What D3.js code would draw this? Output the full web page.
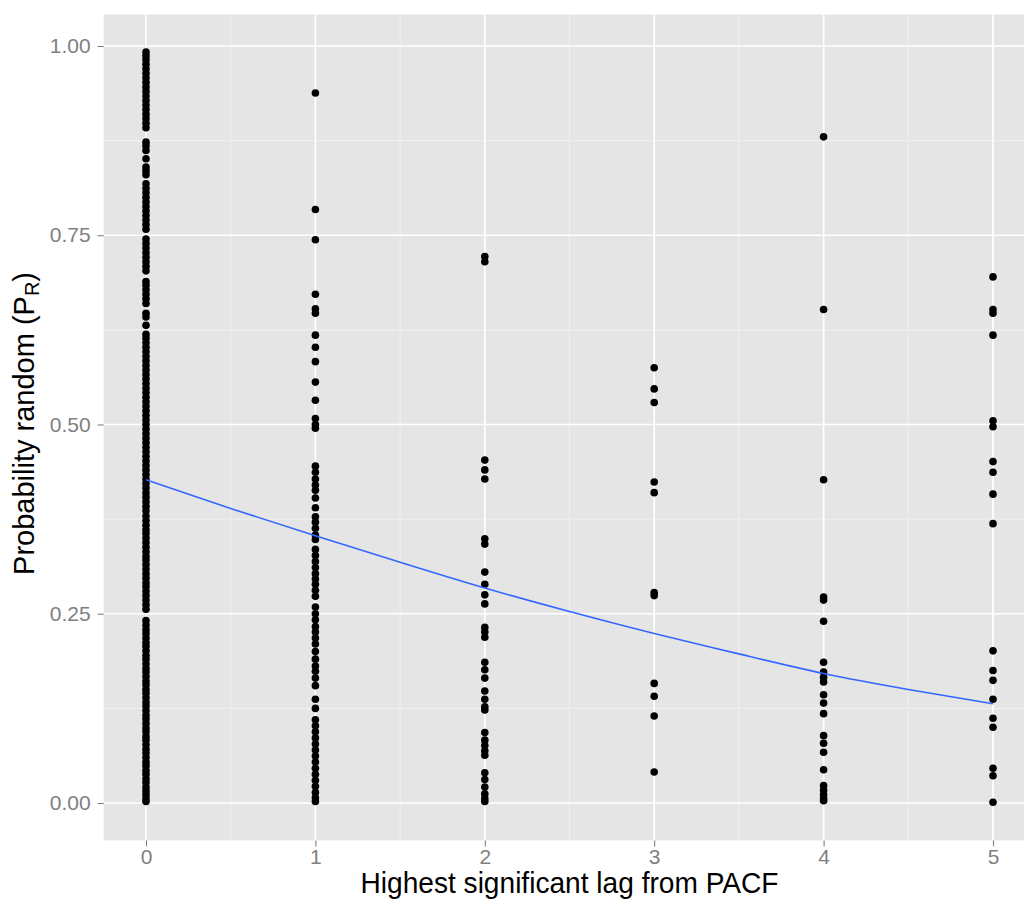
<!DOCTYPE html>
<html><head><meta charset="utf-8">
<script src="https://cdn.jsdelivr.net/npm/d3@7"></script>
<style>body{margin:0;background:#fff}svg{display:block}</style>
</head><body>
<svg id="chart" width="1024" height="906"></svg>
<script>
const xTicks = [0,1,2,3,4,5];
const yTicks = [0,0.25,0.5,0.75,1];
const yTickLabels = ["0.00","0.25","0.50","0.75","1.00"];
const xMinor = [0.5,1.5,2.5,3.5,4.5];
const yMinor = [0.125,0.375,0.625,0.875];

const lag0 = [0.002,0.006,0.011,0.016,0.021,0.027,0.032,0.038,0.043,0.049,0.054,0.060,0.066,0.071,0.077,0.083,0.088,0.094,0.099,0.105,0.111,0.116,0.122,0.128,0.133,0.139,0.145,0.150,0.156,0.161,0.167,0.173,0.178,0.184,0.190,0.195,0.201,0.207,0.212,0.218,0.224,0.229,0.235,0.241,
0.256,0.262,0.268,0.274,0.280,0.286,0.291,0.297,0.303,0.309,0.315,0.321,0.326,0.332,0.338,0.344,0.350,0.356,0.361,0.367,0.373,0.379,
0.386,0.392,0.398,0.404,0.410,0.416,0.422,0.428,0.434,0.440,0.446,0.452,0.458,0.464,0.470,0.476,0.482,0.488,0.494,0.500,0.506,0.512,0.518,0.524,0.530,0.536,0.542,0.548,0.554,0.560,0.566,0.572,0.578,0.584,0.590,0.596,0.602,0.608,0.614,0.619,
0.631,0.642,0.647,0.660,0.666,0.672,0.678,0.684,0.689,
0.703,0.709,0.715,0.721,0.727,0.733,0.739,0.745,
0.758,0.764,0.770,0.776,0.782,0.788,0.794,0.800,0.806,0.812,0.818,
0.830,0.835,0.840,0.851,0.862,0.868,0.873,
0.892,0.898,0.904,0.910,0.916,0.922,0.928,0.934,0.940,0.946,0.952,0.958,0.964,0.970,0.976,0.982,0.987,0.992];
const lag1 = [0.938,0.784,0.744,0.672,0.653,0.647,0.618,0.602,0.583,0.556,0.532,0.508,0.500,0.495,
0.445,0.437,0.428,0.420,0.413,0.403,0.390,0.378,0.371,0.363,0.354,0.348,
0.335,0.327,0.319,0.311,0.303,0.296,0.289,0.281,0.273,
0.259,0.250,0.242,0.233,0.226,0.218,0.210,0.200,0.190,0.181,0.174,0.165,0.155,0.137,0.125,
0.110,0.102,0.094,0.086,0.078,0.070,0.062,0.054,0.046,0.038,0.030,0.022,0.014,0.007,0.002];
const lag2 = [0.722,0.715,0.453,0.440,0.428,0.349,0.342,0.305,0.289,0.275,0.263,0.232,0.226,0.219,0.186,0.176,0.165,0.148,0.137,0.127,0.123,0.093,0.083,0.076,0.069,0.063,0.040,0.031,0.021,0.012,0.006,0.002];
const lag3 = [0.575,0.547,0.529,0.424,0.410,0.278,0.274,0.158,0.141,0.115,0.041];
const lag4 = [0.880,0.652,0.427,0.272,0.268,0.240,0.186,0.173,0.166,0.160,0.143,0.132,0.118,0.089,0.079,0.067,0.044,0.023,0.017,0.011,0.006,0.003];
const lag5 = [0.695,0.652,0.647,0.618,0.505,0.497,0.451,0.437,0.408,0.369,0.201,0.175,0.162,0.137,0.112,0.100,0.046,0.036,0.001];
const fitX = [0,0.5,1,1.5,2,2.5,3,3.5,4,4.5,5];
const fitY = [0.427,0.389,0.353,0.318,0.284,0.253,0.224,0.197,0.171,0.150,0.131];

const svg = d3.select("#chart");
const x = d3.scaleLinear().domain([0,5]).range([146,993]);
const y = d3.scaleLinear().domain([0,1]).range([803,46]);
const px0 = x(-0.25), px1 = x(5.25), py0 = y(1.0416), py1 = y(-0.0494);

svg.append("rect").attr("x",px0).attr("y",py0).attr("width",px1-px0).attr("height",py1-py0).attr("fill","#E5E5E5");
const g = svg.append("g");
g.selectAll(".ymin").data(yMinor).enter().append("line").attr("x1",px0).attr("x2",px1).attr("y1",d=>y(d)).attr("y2",d=>y(d)).attr("stroke","#F2F2F2").attr("stroke-width",0.9);
g.selectAll(".xmin").data(xMinor).enter().append("line").attr("y1",py0).attr("y2",py1).attr("x1",d=>x(d)).attr("x2",d=>x(d)).attr("stroke","#F2F2F2").attr("stroke-width",0.9);
g.selectAll(".ymaj").data(yTicks).enter().append("line").attr("x1",px0).attr("x2",px1).attr("y1",d=>y(d)).attr("y2",d=>y(d)).attr("stroke","#fff").attr("stroke-width",1.7);
g.selectAll(".xmaj").data(xTicks).enter().append("line").attr("y1",py0).attr("y2",py1).attr("x1",d=>x(d)).attr("x2",d=>x(d)).attr("stroke","#fff").attr("stroke-width",1.7);

const series = [lag0,lag1,lag2,lag3,lag4,lag5];
const pts = [];
series.forEach((arr,i)=>arr.forEach(v=>pts.push([i,v])));
svg.append("g").selectAll("circle").data(pts).enter().append("circle")
  .attr("cx",d=>x(d[0])).attr("cy",d=>y(d[1])).attr("r",3.8).attr("fill","#000");

const line = d3.line().x((d,i)=>x(fitX[i])).y(d=>y(d)).curve(d3.curveNatural);
svg.append("path").attr("d",line(fitY)).attr("fill","none").attr("stroke","#3366FF").attr("stroke-width",1.6);

// axes
const xAxis = d3.axisBottom(x).tickValues(xTicks).tickSize(6).tickPadding(3).tickFormat(d3.format("d"));
const gx = svg.append("g").attr("transform",`translate(0,${py1})`).call(xAxis);
gx.select(".domain").remove();
gx.selectAll("line").attr("stroke","#7F7F7F").attr("stroke-width",1.1);
gx.selectAll("text").attr("fill","#7F7F7F").style("font-family","Liberation Sans, Arial, sans-serif").style("font-size","21px");

const yAxis = d3.axisLeft(y).tickValues(yTicks).tickSize(6).tickPadding(7).tickFormat((d,i)=>yTickLabels[i]);
const gy = svg.append("g").attr("transform",`translate(${px0},0)`).call(yAxis);
gy.select(".domain").remove();
gy.selectAll("line").attr("stroke","#7F7F7F").attr("stroke-width",1.1);
gy.selectAll("text").attr("fill","#7F7F7F").style("font-family","Liberation Sans, Arial, sans-serif").style("font-size","21px");

svg.append("text").attr("x",(px0+px1)/2).attr("y",893).attr("text-anchor","middle")
  .style("font-family","Liberation Sans, Arial, sans-serif").style("font-size","29px").attr("fill","#000")
  .attr("textLength",418).attr("lengthAdjust","spacingAndGlyphs")
  .text("Highest significant lag from PACF");

const yt = svg.append("text").attr("transform",`translate(34,${(py0+py1)/2 - 4}) rotate(-90)`).attr("text-anchor","middle")
  .style("font-family","Liberation Sans, Arial, sans-serif").style("font-size","29px").attr("fill","#000");
yt.append("tspan").text("Probability random (P");
yt.append("tspan").attr("dy",5).style("font-size","20px").text("R");
yt.append("tspan").attr("dy",-5).text(")");
</script>
</body></html>
